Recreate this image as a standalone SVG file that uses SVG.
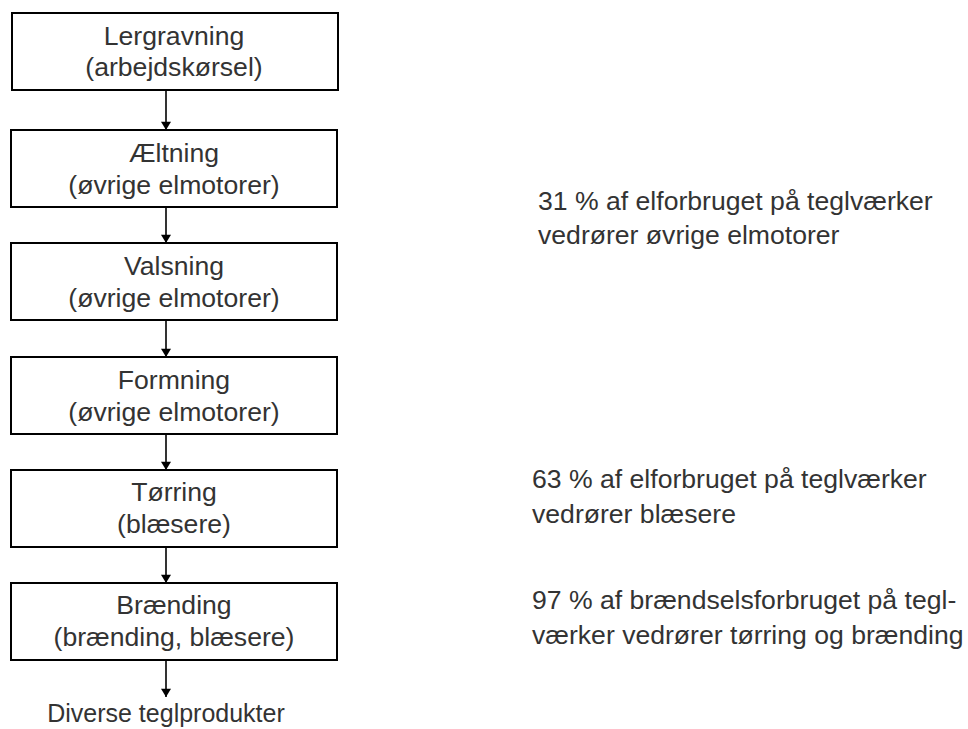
<svg xmlns="http://www.w3.org/2000/svg" width="968" height="729" viewBox="0 0 968 729">
  <style>
    .box { fill: #ffffff; stroke: #000000; stroke-width: 2; }
    .lbl { font-family: "Liberation Sans", Arial, sans-serif; font-size: 26.6px; fill: #333333; }
    .end { font-size: 25px; }
    .mid { text-anchor: middle; }
    .link { stroke: #000000; stroke-width: 1.6; fill: none; marker-end: url(#arrow); }
  </style>
  <defs>
    <marker id="arrow" viewBox="0 0 10 12" refX="10" refY="6" markerUnits="userSpaceOnUse" markerWidth="12" markerHeight="10" orient="auto">
      <path d="M0,0 L10,6 L0,12 Z" fill="#000000"/>
    </marker>
  </defs>
  <rect width="968" height="729" fill="#ffffff"/>

  <!-- process steps -->
  <g id="lergravning">
    <rect class="box" x="12" y="13" width="326" height="77"/>
    <text class="lbl mid" x="174" y="45">Lergravning</text>
    <text class="lbl mid" x="174" y="76">(arbejdskørsel)</text>
  </g>
  <g id="aeltning">
    <rect class="box" x="11" y="130" width="326" height="77"/>
    <text class="lbl mid" x="174" y="162">Æltning</text>
    <text class="lbl mid" x="174" y="194">(øvrige elmotorer)</text>
  </g>
  <g id="valsning">
    <rect class="box" x="11" y="243" width="326" height="77"/>
    <text class="lbl mid" x="174" y="275">Valsning</text>
    <text class="lbl mid" x="174" y="307">(øvrige elmotorer)</text>
  </g>
  <g id="formning">
    <rect class="box" x="11" y="357" width="326" height="77"/>
    <text class="lbl mid" x="174" y="389">Formning</text>
    <text class="lbl mid" x="174" y="421">(øvrige elmotorer)</text>
  </g>
  <g id="toerring">
    <rect class="box" x="11" y="470" width="326" height="77"/>
    <text class="lbl mid" x="174" y="501">Tørring</text>
    <text class="lbl mid" x="174" y="533">(blæsere)</text>
  </g>
  <g id="braending">
    <rect class="box" x="11" y="583" width="326" height="77"/>
    <text class="lbl mid" x="174" y="614">Brænding</text>
    <text class="lbl mid" x="174" y="646">(brænding, blæsere)</text>
  </g>
  <g id="produkter">
    <text class="lbl end mid" x="166" y="722">Diverse teglprodukter</text>
  </g>

  <!-- flow arrows -->
  <g id="connectors">
    <line class="link" x1="166" y1="90" x2="166" y2="130"/>
    <line class="link" x1="166" y1="207" x2="166" y2="243"/>
    <line class="link" x1="166" y1="320" x2="166" y2="357"/>
    <line class="link" x1="166" y1="434" x2="166" y2="470"/>
    <line class="link" x1="166" y1="547" x2="166" y2="583"/>
    <line class="link" x1="166" y1="660" x2="166" y2="697"/>
  </g>

  <!-- notes -->
  <g id="note-elmotorer">
    <text class="lbl" x="538" y="210">31 % af elforbruget på teglværker</text>
    <text class="lbl" x="538" y="244">vedrører øvrige elmotorer</text>
  </g>
  <g id="note-blaesere">
    <text class="lbl" x="532" y="488">63 % af elforbruget på teglværker</text>
    <text class="lbl" x="532" y="523">vedrører blæsere</text>
  </g>
  <g id="note-braendsel">
    <text class="lbl" x="532" y="609">97 % af brændselsforbruget på tegl-</text>
    <text class="lbl" x="532" y="644">værker vedrører tørring og brænding</text>
  </g>
</svg>
